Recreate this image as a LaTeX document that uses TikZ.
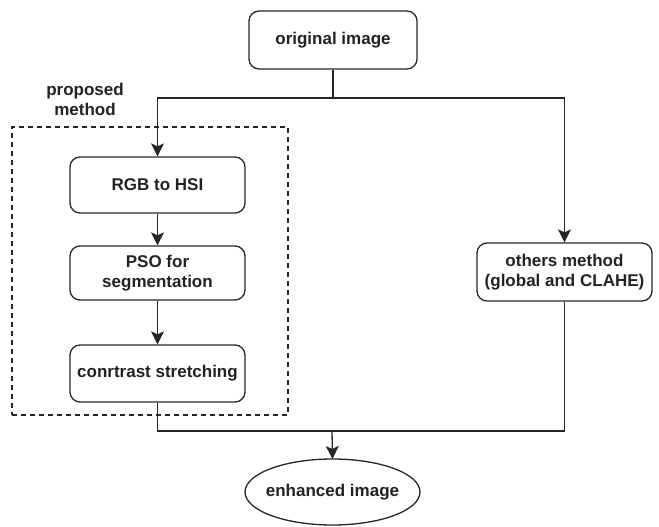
\documentclass[tikz,border=0pt]{standalone}
\usepackage{fontspec}
\setmainfont{Liberation Sans}
\usetikzlibrary{arrows.meta,shapes.geometric}
\definecolor{txt}{HTML}{222222}
\begin{document}
\begin{tikzpicture}[x=1pt,y=-1pt,
  line width=1.3pt,
  font=\fontsize{17}{20}\selectfont\bfseries,
  box/.style={draw=black!85, rounded corners=10pt, minimum width=175pt, inner sep=0pt, align=center, text=txt},
  arr/.style={-{Stealth[length=13pt,width=13pt,inset=3pt]}},
  conn/.style={draw=black!85}]
\useasboundingbox (0,0) rectangle (659,527);
\node[box, minimum width=168pt, minimum height=58pt] (orig) at (333,40) {original image};
\node[box, minimum height=56pt] (rgb) at (157.5,185) {RGB to HSI};
\node[box, minimum height=54pt] (pso) at (157.5,273) {PSO for\\segmentation};
\node[box, minimum height=57pt] (cs) at (157.5,373.5) {conrtrast stretching};
\node[box, minimum height=58pt] (others) at (564.5,272) {others method\\(global and CLAHE)};
\node[draw=black!85, ellipse, minimum width=175pt, minimum height=66pt, inner xsep=-25pt, inner ysep=0pt, outer sep=0pt, text=txt] (enh) at (332.5,492) {enhanced image};
\node[draw=black!85, dashed, dash pattern=on 5pt off 4pt, line width=1.1pt, minimum width=276pt, minimum height=288pt, inner sep=0pt] (pm) at (150,271) {};
\node[text=txt, align=center, inner sep=0pt] (pmlabel) at (85,99) {proposed\\method};
\coordinate (j1) at (333,98);
\coordinate (j2) at (332,431);
\draw[conn] (orig.south) -- (j1);
\draw[conn,arr] (j1) -| (rgb.north);
\draw[conn,arr] (j1) -| (others.north);
\draw[conn,arr] (rgb.south) -- (pso.north);
\draw[conn,arr] (pso.south) -- (cs.north);
\draw[conn] (cs.south) |- (j2);
\draw[conn] (others.south) |- (j2);
\draw[conn,arr] (j2) -- (enh.north);
\end{tikzpicture}
\end{document}
